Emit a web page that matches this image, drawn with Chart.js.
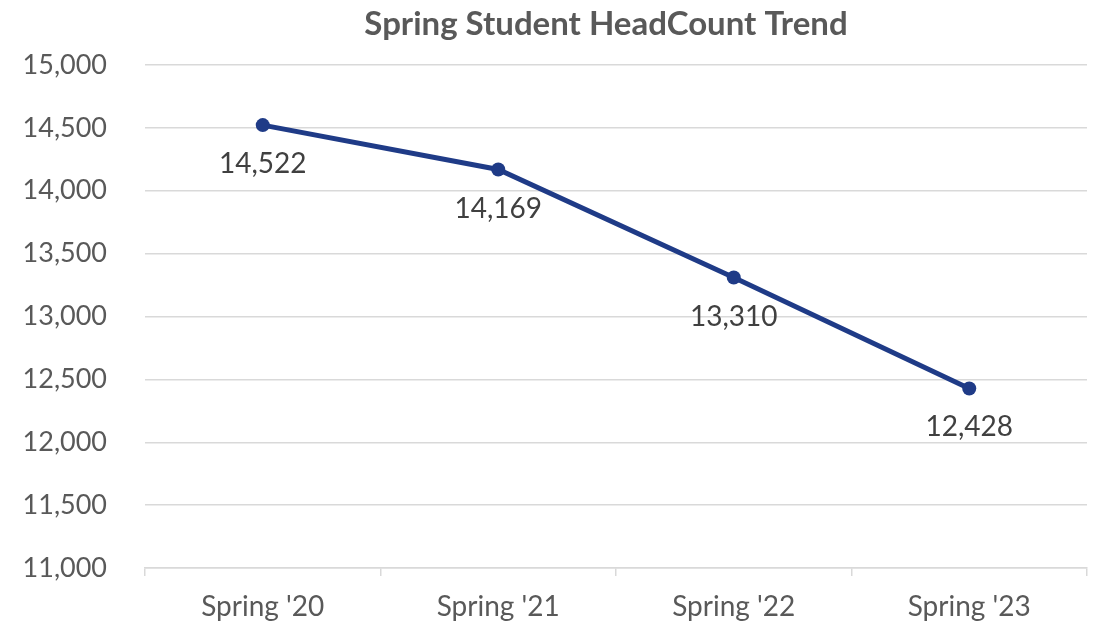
<!DOCTYPE html>
<html>
<head>
<meta charset="utf-8">
<script src="https://cdn.jsdelivr.net/npm/chart.js@4.4.0/dist/chart.umd.min.js"></script>
<style>
html,body{margin:0;padding:0;background:#fff;}
#wrap{width:1099px;height:624px;position:relative;}
</style>
</head>
<body>
<div id="wrap"><canvas id="c" width="1099" height="624"></canvas></div>
<script>
const categories = ["Spring '20", "Spring '21", "Spring '22", "Spring '23"];
const headcount = [14522, 14169, 13310, 12428];
const yMin = 11000, yMax = 15000, yStep = 500;
const chartTitle = "Spring Student HeadCount Trend";

const FONT = "Lato, 'Open Sans', sans-serif";
const fmt = v => Number(v).toLocaleString('en-US');

const labelsBelow = {
  id: 'labelsBelow',
  afterDatasetsDraw(chart) {
    const ctx = chart.ctx;
    const meta = chart.getDatasetMeta(0);
    ctx.save();
    ctx.font = "28px " + FONT;
    ctx.fillStyle = "#404040";
    ctx.textAlign = "center";
    ctx.textBaseline = "middle";
    meta.data.forEach((pt, i) => {
      ctx.fillText(fmt(chart.data.datasets[0].data[i]), pt.x, pt.y + 39);
    });
    ctx.restore();
  }
};

const titlePlugin = {
  id: 'titlePlugin',
  afterDraw(chart) {
    const ctx = chart.ctx;
    const a = chart.chartArea;
    ctx.save();
    ctx.font = "bold 33px " + FONT;
    ctx.fillStyle = "#595959";
    ctx.textAlign = "center";
    ctx.textBaseline = "middle";
    ctx.fillText(chartTitle, (a.left + a.right) / 2 - 10, 24);
    ctx.restore();
  }
};

new Chart(document.getElementById('c'), {
  type: 'line',
  data: {
    labels: categories,
    datasets: [{
      data: headcount,
      borderColor: '#1F3B87',
      backgroundColor: '#1F3B87',
      borderWidth: 5,
      pointRadius: 7,
      pointHoverRadius: 7,
      pointBackgroundColor: '#1F3B87',
      pointBorderWidth: 0,
      tension: 0,
      fill: false
    }]
  },
  options: {
    responsive: false,
    animation: false,
    devicePixelRatio: 1,
    layout: { padding: { left: 21, right: 12, top: 65, bottom: 0 } },
    plugins: {
      legend: { display: false },
      tooltip: { enabled: false },
      title: { display: false }
    },
    scales: {
      x: {
        offset: true,
        afterFit(scale) { scale.height = 56; },
        grid: {
          offset: true,
          drawOnChartArea: false,
          drawTicks: true,
          tickLength: 8,
          color: '#d9d9d9',
          lineWidth: 1.5
        },
        border: { display: true, color: '#d9d9d9', width: 1.5 },
        ticks: {
          color: '#595959',
          font: { family: FONT, size: 28 },
          padding: 14,
          maxRotation: 0
        }
      },
      y: {
        min: yMin,
        max: yMax,
        afterFit(scale) { scale.width = 124; },
        grid: { color: '#d9d9d9', lineWidth: 1.5, drawTicks: false },
        border: { display: false },
        ticks: {
          stepSize: yStep,
          color: '#595959',
          font: { family: FONT, size: 27 },
          padding: 38,
          callback: v => fmt(v)
        }
      }
    }
  },
  plugins: [labelsBelow, titlePlugin]
});
</script>
</body>
</html>
